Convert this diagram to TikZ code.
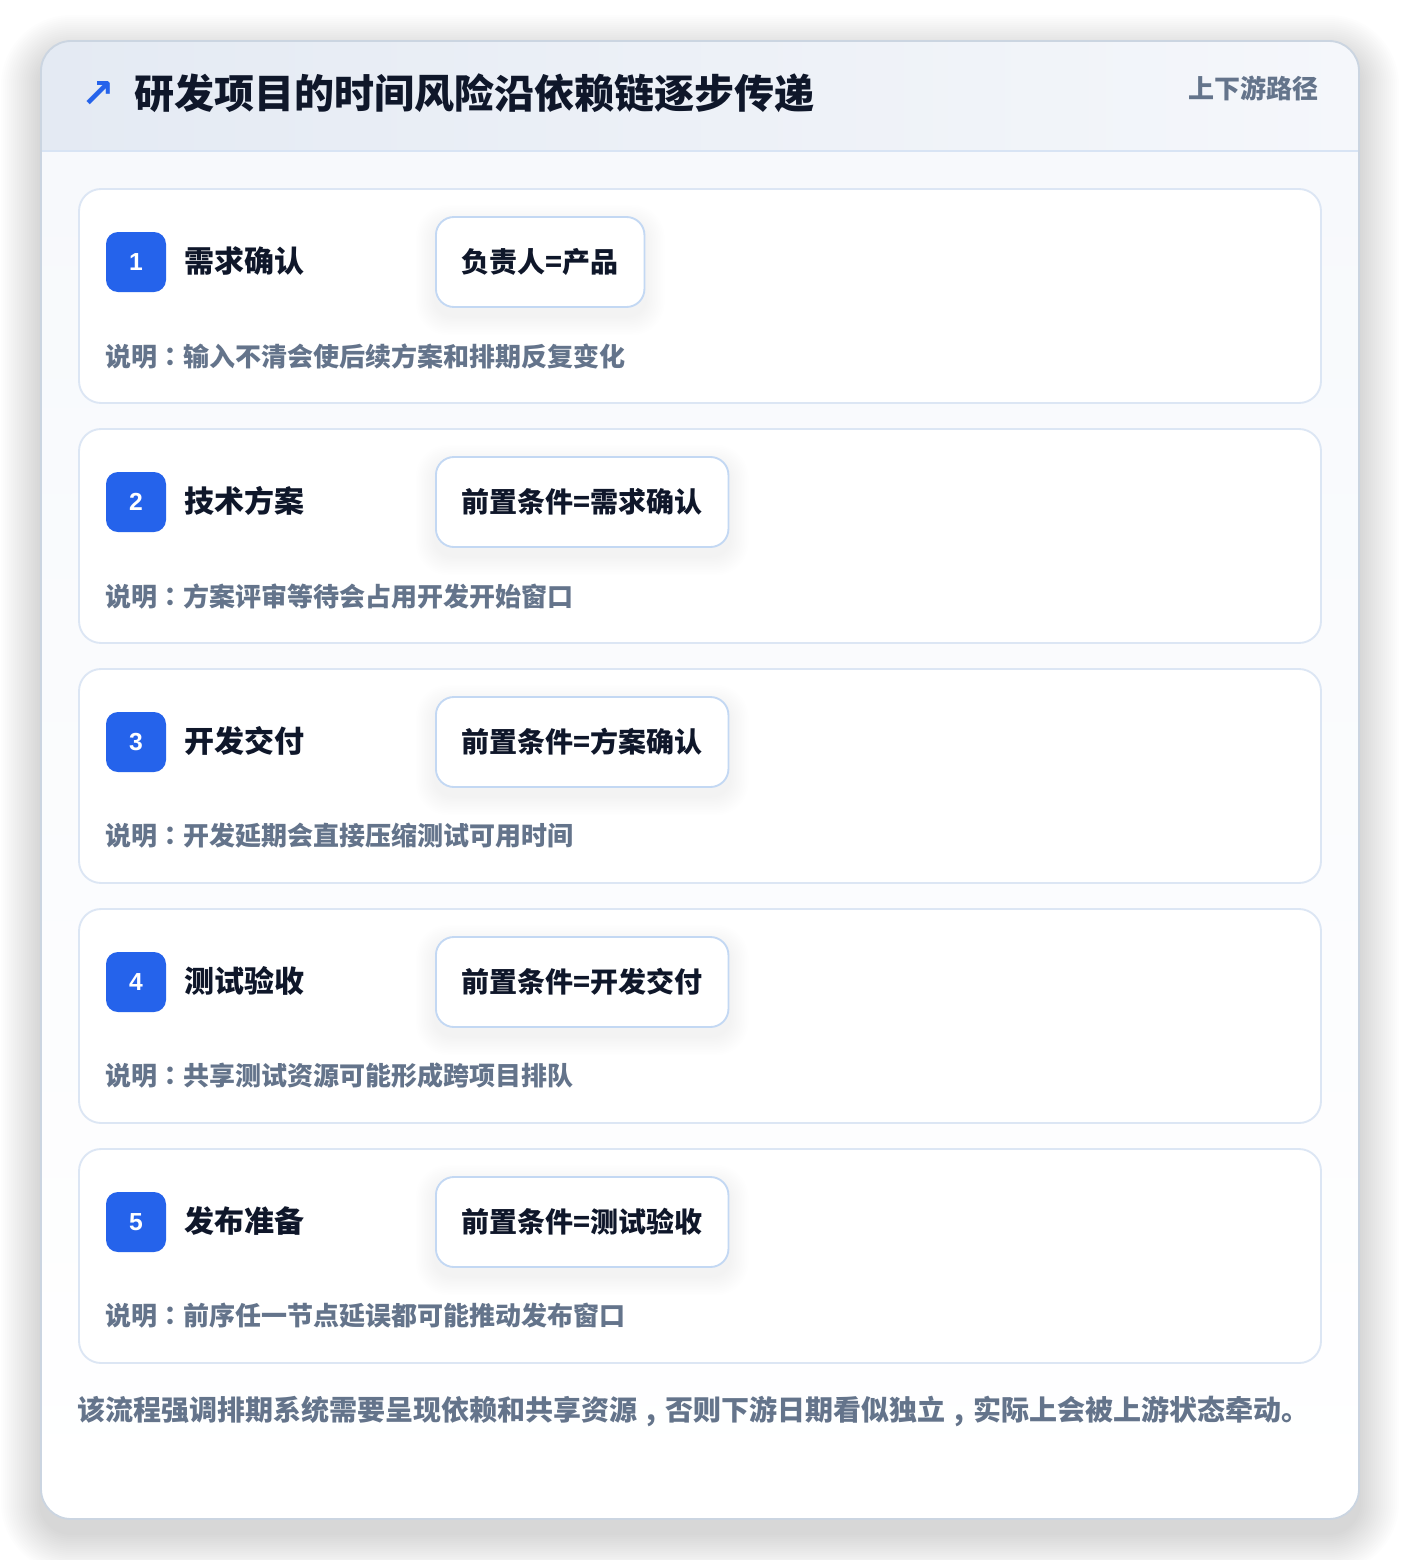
\documentclass[tikz,border=0pt]{standalone}
\usepackage{fontspec}
\setmainfont{Noto Sans CJK SC}
\newfontfamily\tcf{Noto Sans CJK TC}
\newfontfamily\arrowf{DejaVu Sans}
\newfontfamily\numf{Liberation Sans}
\newcommand{\cc}{{\tcf ：}}
\newcommand{\cm}{\makebox[1em][c]{,}}
\definecolor{ink}{HTML}{0F172A}
\definecolor{muted}{HTML}{64748B}
\definecolor{accent}{HTML}{2563EB}
\definecolor{outerline}{HTML}{CBD5E1}
\definecolor{cardline}{HTML}{DCE6F4}
\definecolor{pillline}{HTML}{C3D8F3}
\definecolor{headL}{HTML}{E4EAF3}
\definecolor{headR}{HTML}{F5F7FB}
\definecolor{headrule}{HTML}{D8E4F4}
\definecolor{bodytop}{HTML}{F7F9FC}
\tikzset{
  x=0.75pt, y=-0.75pt,
  stepcard/.style={draw=cardline, line width=1.4pt, fill=white, rounded corners=16.5pt},
  badge/.style={fill=accent, rounded corners=9pt, minimum width=45pt, minimum height=45pt, inner sep=0pt, text=white, font=\numf\bfseries\fontsize{18.5pt}{20pt}\selectfont},
  steptitle/.style={anchor=west, inner sep=0pt, text=ink, font=\bfseries\fontsize{22.5pt}{26pt}\selectfont},
  pill/.style={anchor=west, draw=pillline, line width=1.4pt, fill=white, rounded corners=13.5pt, minimum height=67.5pt, minimum width=0pt, inner xsep=19.3pt, text=ink, font=\bfseries\fontsize{21pt}{24pt}\selectfont},
  desc/.style={anchor=west, inner sep=0pt, text=muted, font=\bfseries\fontsize{19.5pt}{22pt}\selectfont},
  shadowlayer/.style={fill=black, fill opacity=#1},
}
\begin{document}
\begin{tikzpicture}
\useasboundingbox[fill=white] (0,0) rectangle (1400,1560);
% outer card soft shadow
\foreach \k in {1,...,20}{
  \fill[shadowlayer=0.006, rounded corners={22.5pt+1.5pt*\k}] (41-2*\k,41-2*\k+14) rectangle (1359+2*\k,1519+2*\k+14);
}
\path[fill=white, rounded corners=22.5pt] (41,41) rectangle (1359,1519);
\begin{scope}
  \clip[rounded corners=22.5pt] (41,41) rectangle (1359,1519);
  \shade[top color=bodytop, bottom color=white] (41,151) rectangle (1359,1519);
  \shade[left color=headL, right color=headR] (41,41) rectangle (1359,151);
  \draw[headrule, line width=1.4pt] (41,151) -- (1359,151);
\end{scope}
\draw[outerline, line width=1.4pt, rounded corners=22.5pt] (41,41) rectangle (1359,1519);
% header
\node[inner sep=0pt, text=accent, font=\arrowf\bfseries\fontsize{30pt}{32pt}\selectfont] (arrow) at (98,94) {↗};
\node[anchor=west, inner sep=0pt, text=ink, font=\bfseries\fontsize{30pt}{34pt}\selectfont] (title) at (134,93) {研发项目的时间风险沿依赖链逐步传递};
\node[anchor=east, inner sep=0pt, text=muted, font=\bfseries\fontsize{19.5pt}{22pt}\selectfont] (tag) at (1319,88) {上下游路径};
% steps
\foreach \i/\name/\pilltext/\desctext in {
  0/需求确认/负责人=产品/说明\cc 输入不清会使后续方案和排期反复变化,
  1/技术方案/前置条件=需求确认/说明\cc 方案评审等待会占用开发开始窗口,
  2/开发交付/前置条件=方案确认/说明\cc 开发延期会直接压缩测试可用时间,
  3/测试验收/前置条件=开发交付/说明\cc 共享测试资源可能形成跨项目排队,
  4/发布准备/前置条件=测试验收/说明\cc 前序任一节点延误都可能推动发布窗口}{
  \pgfmathsetmacro{\top}{189+240*\i}
  \pgfmathtruncatemacro{\num}{\i+1}
  \draw[stepcard] (79,\top) rectangle (1321,\top+214);
  \node[badge] (badge\num) at (136,\top+73) {\num};
  \node[steptitle] (stitle\num) at (184,\top+72) {\name};
  \node[pill, draw=none, fill=none, text opacity=0] (ghost\num) at (435,\top+73) {\pilltext};
  \foreach \k in {1,...,12}{
    \fill[shadowlayer=0.005, rounded corners={13.5pt+0.9pt*\k}] ([xshift=-1.2pt*\k, yshift=1.2pt*\k-6pt]ghost\num.north west) rectangle ([xshift=1.2pt*\k, yshift=-1.2pt*\k-6pt]ghost\num.south east);
  }
  \node[pill] (pill\num) at (435,\top+73) {\pilltext};
  \node[desc] (desc\num) at (105,\top+167) {\desctext};
}
% footer
\node[anchor=west, inner sep=0pt, text=muted, font=\bfseries\fontsize{21pt}{24pt}\selectfont] (footer) at (77,1411) {该流程强调排期系统需要呈现依赖和共享资源\cm 否则下游日期看似独立\cm 实际上会被上游状态牵动。};
\end{tikzpicture}
\end{document}
